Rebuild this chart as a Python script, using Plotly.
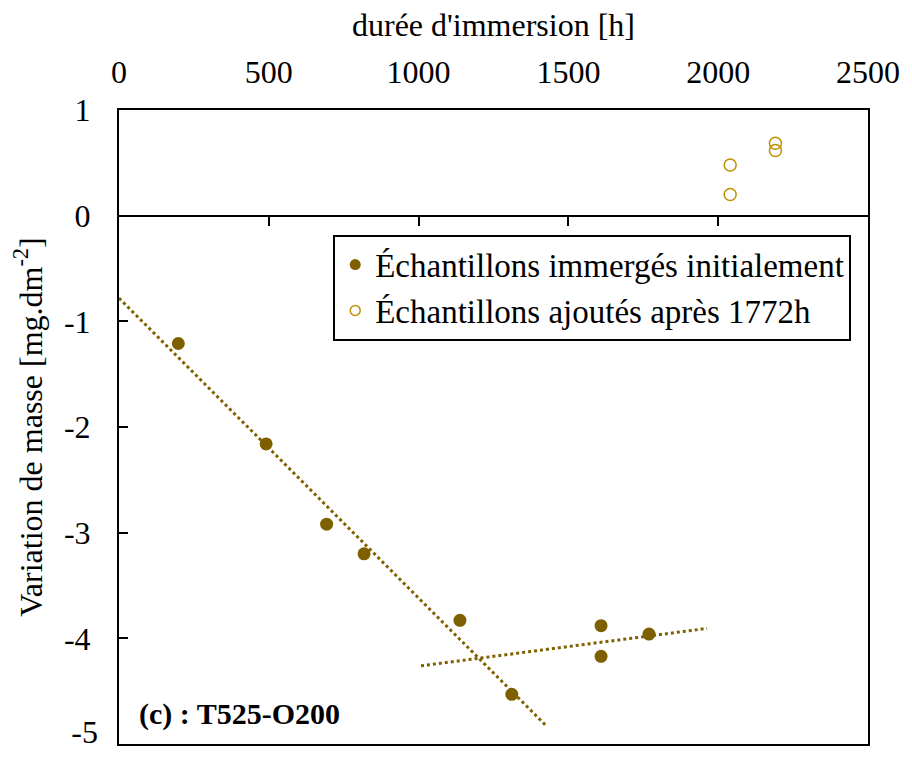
import plotly.graph_objects as go

# Data
h_initial = [198, 491, 693, 818, 1138, 1311, 1609, 1609, 1769]
dm_initial = [-1.21, -2.16, -2.92, -3.20, -3.83, -4.53, -3.88, -4.17, -3.96]

h_added = [2040, 2040, 2191, 2191]
dm_added = [0.48, 0.20, 0.686, 0.616]

trend1_h = [0, 1425]
trend1_dm = [-0.78, -4.825]
trend2_h = [1008, 1963]
trend2_dm = [-4.26, -3.906]

x_ticks = [0, 500, 1000, 1500, 2000, 2500]
x_inner_ticks = [500, 1000, 1500, 2000]
y_ticks = [-4, -3, -2, -1, 0, 1]
y_ticktext = ["-4", "-3", "-2", "-1", "0", "1"]
y_edge_tick = [-5]
y_edge_text = ["-5"]

legend_labels = ["Échantillons immergés initialement", "Échantillons ajoutés après 1772h"]

DARK = "#7F6000"
GOLD = "#BF9000"
FONT = "Liberation Serif, Times New Roman, serif"

fig = go.Figure()

fig.add_trace(go.Scatter(x=trend1_h, y=trend1_dm, mode="lines", xaxis="x2", yaxis="y",
                         line=dict(color=DARK, width=3, dash="dot"), showlegend=False, hoverinfo="skip"))
fig.add_trace(go.Scatter(x=trend2_h, y=trend2_dm, mode="lines", xaxis="x2", yaxis="y",
                         line=dict(color=DARK, width=3, dash="dot"), showlegend=False, hoverinfo="skip"))

fig.add_trace(go.Scatter(x=h_initial, y=dm_initial, mode="markers", xaxis="x", yaxis="y3",
                         marker=dict(color=DARK, size=13), showlegend=False))
fig.add_trace(go.Scatter(x=h_added, y=dm_added, mode="markers", xaxis="x", yaxis="y",
                         marker=dict(color="rgba(0,0,0,0)", size=12, line=dict(color=GOLD, width=1.5)),
                         showlegend=False))

# legend-only entries with small symbols
fig.add_trace(go.Scatter(x=[None], y=[None], mode="markers", name=legend_labels[0],
                         marker=dict(color=DARK, size=11)))
fig.add_trace(go.Scatter(x=[None], y=[None], mode="markers", name=legend_labels[1],
                         marker=dict(color="rgba(0,0,0,0)", size=10, line=dict(color=GOLD, width=1.5))))

fig.update_layout(
    width=912, height=762,
    margin=dict(l=119, r=38, t=110, b=15),
    paper_bgcolor="white", plot_bgcolor="white",
    font=dict(family=FONT, size=32, color="black"),
    xaxis=dict(
        range=[0, 2500], side="top", tickvals=x_ticks, ticks="",
        showline=True, linecolor="black", linewidth=2, mirror=True,
        showgrid=False, zeroline=False, ticklabelstandoff=12, ticklabeloverflow="allow",
        title=dict(text="durée d'immersion [h]", standoff=8, font=dict(size=32)),
    ),
    xaxis2=dict(
        range=[0, 2500], overlaying="x", anchor="free", position=5 / 6, side="bottom",
        tickvals=x_inner_ticks, ticks="outside", ticklen=9, tickwidth=2, tickcolor="black",
        showticklabels=False, showline=False, showgrid=False, zeroline=False,
    ),
    yaxis=dict(
        range=[-5, 1], tickvals=y_ticks, ticktext=y_ticktext,
        ticks="inside", ticklen=9, tickwidth=2, tickcolor="black",
        showline=True, linecolor="black", linewidth=2, mirror=True,
        showgrid=False, zeroline=True, zerolinecolor="black", zerolinewidth=2,
        ticklabelstandoff=20, ticklabeloverflow="allow",
        title=dict(text="Variation de masse [mg.dm<sup>-2</sup>]", standoff=12, font=dict(size=32)),
    ),
    yaxis3=dict(
        range=[-5, 1], overlaying="y", anchor="x", side="left",
        tickvals=y_edge_tick, ticktext=y_edge_text, ticks="",
        showline=False, showgrid=False, zeroline=False,
        ticklabelstandoff=20, ticklabeloverflow="allow", ticklabelshift=-12,
    ),
    legend=dict(
        x=0.286, y=0.7198, xanchor="left", yanchor="middle",
        bordercolor="black", borderwidth=2, bgcolor="white",
        font=dict(size=33), itemsizing="trace", tracegroupgap=0,
    ),
    annotations=[dict(
        text="<b>(c) : T525-O200</b>", xref="paper", yref="paper",
        x=0.0246, y=0.047, xanchor="left", yanchor="middle", showarrow=False,
        font=dict(size=30, family=FONT),
    )],
)

page_fix = (
    "document.body.style.margin='0';"
    "document.body.style.overflow='hidden';"
    "document.documentElement.style.overflow='hidden';"
    "var gd=document.getElementById('{plot_id}');"
    "gd.style.overflow='hidden';"
    "if(gd.parentNode){gd.parentNode.style.overflow='hidden';}"
)

fig.write_html("out.html", post_script=page_fix, config={"displayModeBar": False})
